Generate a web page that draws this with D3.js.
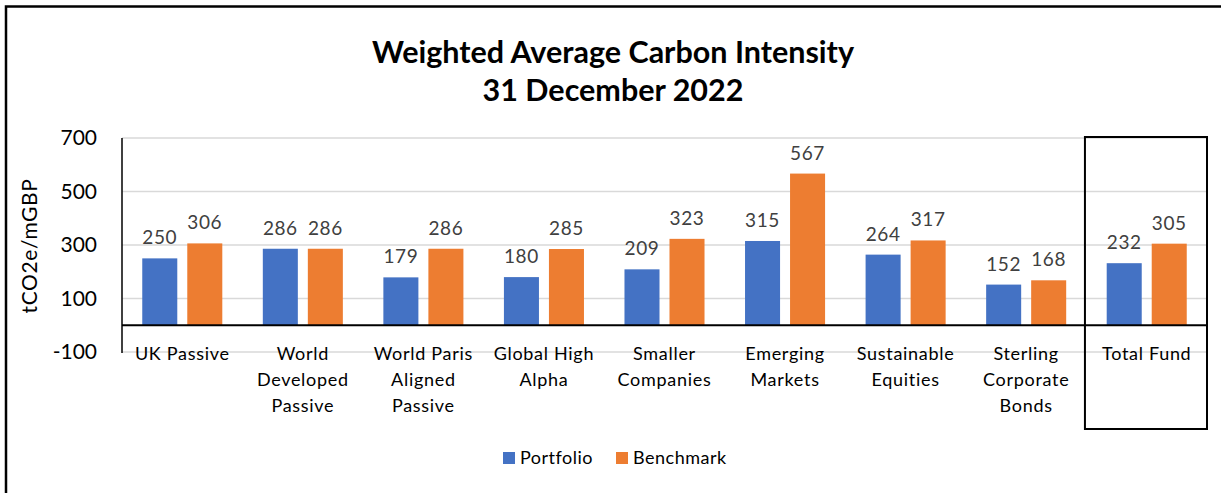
<!DOCTYPE html>
<html>
<head>
<meta charset="utf-8">
<script src="https://cdn.jsdelivr.net/npm/d3@7"></script>
<style>
  body { margin: 0; background: #fff; }
  svg text { font-family: Lato, "Open Sans", sans-serif; }
</style>
</head>
<body>
<div id="chart"></div>
<script>
// categories (line breaks as in the original axis)
var categories = [
    "UK Passive",
    "World\nDeveloped\nPassive",
    "World Paris\nAligned\nPassive",
    "Global High\nAlpha",
    "Smaller\nCompanies",
    "Emerging\nMarkets",
    "Sustainable\nEquities",
    "Sterling\nCorporate\nBonds",
    "Total Fund"
];
var seriesNames = ["Portfolio", "Benchmark"];
var portfolio = [250, 286, 179, 180, 209, 315, 264, 152, 232];
var benchmark = [306, 286, 286, 285, 323, 567, 317, 168, 305];
var yTicks = [-100, 100, 300, 500, 700];

var width = 1221;
var height = 493;
var color = d3.scaleOrdinal()
    .domain(seriesNames)
    .range(["#4472C4", "#ED7D31"]);

var svg = d3.select('#chart')
    .append('svg')
    .attr('width', width)
    .attr('height', height);

// outer frame (right and bottom edges fall outside the picture)
svg.append('rect')
    .attr('x', 6)
    .attr('y', 6.5)
    .attr('width', width + 20)
    .attr('height', height + 20)
    .attr('fill', 'none')
    .attr('stroke', '#000')
    .attr('stroke-width', 2.5);

svg.append('text')
    .attr('x', 613)
    .attr('y', 63)
    .attr('text-anchor', 'middle')
    .style('font-weight', 'bold')
    .style('font-size', '30.5px')
    .text('Weighted Average Carbon Intensity');

svg.append('text')
    .attr('x', 613)
    .attr('y', 101)
    .attr('text-anchor', 'middle')
    .style('font-weight', 'bold')
    .style('font-size', '30.5px')
    .text('31 December 2022');

var x0 = d3.scaleBand()
    .domain(categories)
    .range([122, 1207]);

var x1 = d3.scaleBand()
    .domain(seriesNames)
    .range([0, x0.bandwidth()])
    .paddingInner(0.222)
    .paddingOuter(0.45);

var y = d3.scaleLinear()
    .domain([-100, 700])
    .range([352, 138]);

// gridlines
svg.append('g')
    .selectAll('line')
    .data(yTicks)
    .enter()
    .append('line')
    .attr('x1', 122)
    .attr('x2', 1206)
    .attr('y1', function (d) { return y(d); })
    .attr('y2', function (d) { return y(d); })
    .attr('stroke', '#d9d9d9')
    .attr('stroke-width', 1.5);

// y axis labels (plain hyphen for negatives, as in the original)
var yAxis = d3.axisLeft(y)
    .tickValues(yTicks)
    .tickFormat(function (d) { return String(d); })
    .tickSize(0)
    .tickPadding(0);

svg.append('g')
    .attr('transform', 'translate(97,0)')
    .call(yAxis)
    .call(function (g) {
        g.select('.domain').remove();
        g.selectAll('text')
            .style('font-family', 'Lato, sans-serif')
            .style('font-size', '21px')
            .attr('fill', '#000');
    });

svg.append('text')
    .attr('transform', 'translate(37,246) rotate(-90)')
    .attr('text-anchor', 'middle')
    .style('font-size', '21px')
    .style('letter-spacing', '0.6px')
    .text('tCO2e/mGBP');

var rows = categories.map(function (c, i) {
    return { cat: c, values: [portfolio[i], benchmark[i]] };
});

var groups = svg.selectAll('.cat')
    .data(rows)
    .enter()
    .append('g')
    .attr('class', 'cat')
    .attr('transform', function (d) {
        return 'translate(' + x0(d.cat) + ',0)';
    });

groups.selectAll('rect')
    .data(function (d) {
        return d.values.map(function (v, j) { return { s: seriesNames[j], v: v }; });
    })
    .enter()
    .append('rect')
    .attr('x', function (d) { return x1(d.s); })
    .attr('width', x1.bandwidth())
    .attr('y', function (d) { return y(d.v); })
    .attr('height', function (d) { return y(0) - y(d.v); })
    .attr('fill', function (d) { return color(d.s); });

groups.selectAll('.val')
    .data(function (d) {
        return d.values.map(function (v, j) { return { s: seriesNames[j], v: v }; });
    })
    .enter()
    .append('text')
    .attr('class', 'val')
    .attr('x', function (d) { return x1(d.s) + x1.bandwidth() / 2; })
    .attr('y', function (d) { return y(d.v) - 14; })
    .attr('text-anchor', 'middle')
    .attr('fill', '#404040')
    .style('font-size', '19px')
    .style('letter-spacing', '0.6px')
    .text(function (d) { return d.v; });

// category labels
groups.append('text')
    .attr('text-anchor', 'middle')
    .attr('fill', '#000')
    .style('font-size', '18px')
    .style('letter-spacing', '0.7px')
    .each(function (d) {
        var t = d3.select(this);
        d.cat.split('\n').forEach(function (line, k) {
            t.append('tspan')
                .attr('x', x0.bandwidth() / 2)
                .attr('y', 360 + k * 26)
                .text(line);
        });
    });

// axis lines
svg.append('line')
    .attr('x1', 122).attr('x2', 122)
    .attr('y1', 138).attr('y2', 353)
    .attr('stroke', '#000')
    .attr('stroke-width', 1.5);

svg.append('line')
    .attr('x1', 122).attr('x2', 1206)
    .attr('y1', y(0)).attr('y2', y(0))
    .attr('stroke', '#000')
    .attr('stroke-width', 2);

// box around total fund
var last = categories[categories.length - 1];
svg.append('rect')
    .attr('x', x0(last) - 1.5)
    .attr('y', 137)
    .attr('width', x0.bandwidth() + 1.5)
    .attr('height', 292)
    .attr('fill', 'none')
    .attr('stroke', '#000')
    .attr('stroke-width', 2);

// legend
var legend = svg.selectAll('.legend')
    .data(seriesNames)
    .enter()
    .append('g')
    .attr('class', 'legend')
    .attr('transform', function (d, i) {
        return 'translate(' + (503 + i * 113) + ',452)';
    });

legend.append('rect')
    .attr('width', 12)
    .attr('height', 12)
    .attr('fill', color);

legend.append('text')
    .attr('x', 17)
    .attr('y', 12)
    .style('font-size', '18px')
    .style('letter-spacing', '0.5px')
    .text(function (d) { return d; });
</script>
</body>
</html>
